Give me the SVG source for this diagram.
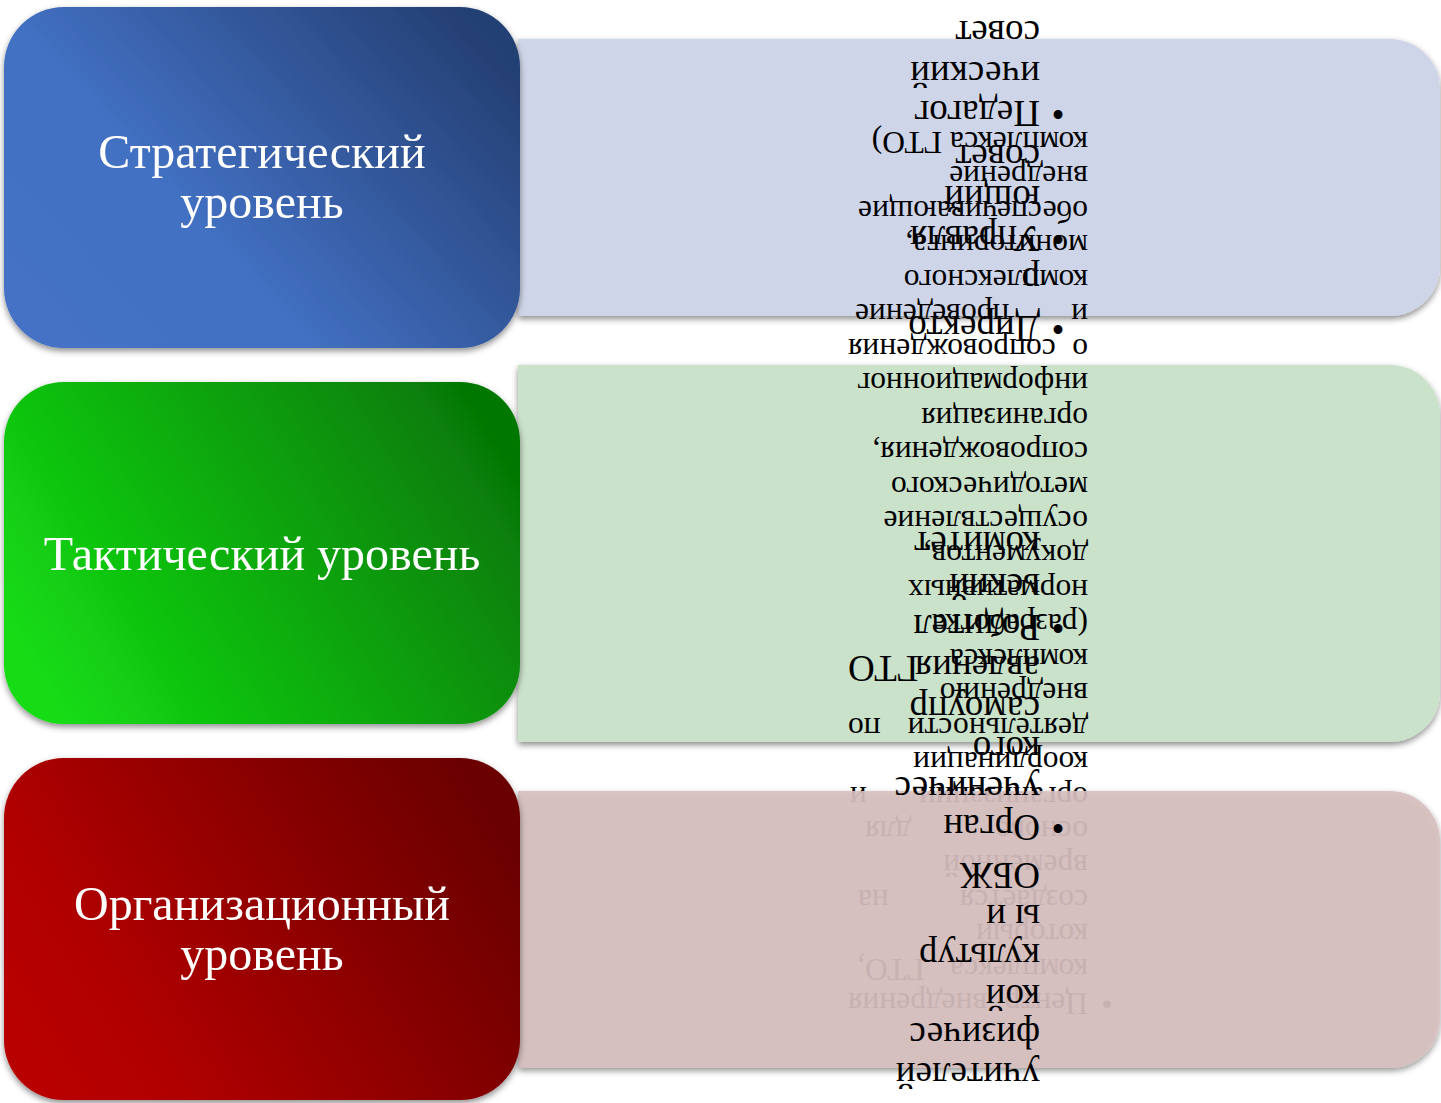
<svg xmlns="http://www.w3.org/2000/svg" width="1441" height="1103" viewBox="0 0 1441 1103">
<style>
.title{font-family:"Liberation Serif","Times New Roman",serif;font-size:48px;fill:#fff;text-anchor:middle}
.a{font-family:"Liberation Serif","Times New Roman",serif;font-size:37px;fill:#000}
.b{font-family:"Liberation Serif","Times New Roman",serif;font-size:31.5px;fill:#000}
.e{text-anchor:end}
.m{text-anchor:middle}
</style>
<defs>
<filter id="sh" x="-5%" y="-5%" width="110%" height="125%">
<feDropShadow dx="0" dy="3" stdDeviation="3" flood-color="#000" flood-opacity="0.45"/>
</filter>
<linearGradient id="gBlue" x1="0" y1="0.8" x2="1" y2="0.2">
<stop offset="0" stop-color="#4472C4"/>
<stop offset="0.35" stop-color="#4270C2"/>
<stop offset="1" stop-color="#243F73"/>
</linearGradient>
<linearGradient id="gGreen" x1="0" y1="0.7" x2="1" y2="0.3">
<stop offset="0" stop-color="#14DC14"/>
<stop offset="1" stop-color="#067806"/>
</linearGradient>
<linearGradient id="gRed" x1="0" y1="0.7" x2="1" y2="0.3">
<stop offset="0" stop-color="#B80000"/>
<stop offset="0.2" stop-color="#B00000"/>
<stop offset="1" stop-color="#6A0000"/>
</linearGradient>
</defs>

<g id="detail-strategic" filter="url(#sh)">
<path d="M518,39 H1390 A50,50 0 0 1 1440,89 V266 A50,50 0 0 1 1390,316 H518 Z" fill="#CFD5E8"/>
</g>
<g id="detail-tactical" filter="url(#sh)">
<path d="M518,365 H1390 A50,50 0 0 1 1440,415 V692 A50,50 0 0 1 1390,742 H518 Z" fill="#CAE1CA"/>
</g>

<g id="text-centre" transform="rotate(180 720.5 551.5)">
<text class="b" x="353" y="971">комплекса ГТО)</text>
<text class="b" x="353" y="936.6">внедрение</text>
<text class="b" x="353" y="902.1">обеспечивающие</text>
<text class="b" x="353" y="867.7">мониторинга,</text>
<text class="b" x="353" y="833.2">комплексного</text>
<text class="b" x="353" y="798.8">и</text><text class="b e" x="586" y="798.8">проведение</text>
<text class="b" x="353" y="764.3">о</text><text class="b e" x="593" y="764.3">сопровождения</text>
<text class="b" x="353" y="729.9">информационног</text>
<text class="b" x="353" y="695.4">организация</text>
<text class="b" x="353" y="661">сопровождения,</text>
<text class="b" x="353" y="626.5">методического</text>
<text class="b" x="353" y="592.1">осуществление</text>
<text class="b" x="353" y="557.6">документов,</text>
<text class="b" x="353" y="523.2">нормативных</text>
<text class="b" x="353" y="488.7">(разработка</text>
<text class="b" x="353" y="454.3">комплекса</text>
<text class="b" x="353" y="419.8">внедрению</text>
<text class="b" x="353" y="385.4">деятельности</text><text class="b e" x="593" y="385.4">по</text>
<text class="b" x="353" y="350.9">координации</text>
<text class="b" x="353" y="316.5">организации</text><text class="b e" x="591" y="316.5">и</text>
<text class="b" x="353" y="282">основе</text><text class="b e" x="576" y="282">для</text>
<text class="b" x="353" y="247.6">временной</text>
<text class="b" x="353" y="213.1">создается</text><text class="b e" x="583" y="213.1">на</text>
<text class="b" x="353" y="178.7">который</text>
<text class="b" x="353" y="144.2">комплекса</text><text class="b e" x="584" y="144.2">ГТО,</text>
<text class="b m" x="334" y="109.8">•</text><text class="b" x="353" y="109.8">Центр</text><text class="b e" x="593" y="109.8">внедрения</text>
</g>

<g id="detail-organizational" filter="url(#sh)">
<path d="M518,791 H1390 A50,50 0 0 1 1440,841 V1018 A50,50 0 0 1 1390,1068 H518 Z" fill="#D7BFBF" fill-opacity="0.9"/>
</g>

<g id="text-bodies" transform="rotate(180 720.5 551.5)">
<text class="a" x="401" y="40">учителей</text>
<text class="a" x="401" y="80">физичес</text>
<text class="a" x="401" y="118">кой</text>
<text class="a" x="401" y="159">культур</text>
<text class="a" x="401" y="198">ы и</text>
<text class="a" x="401" y="240">ОБЖ</text>
<text class="a m" x="383" y="288">•</text><text class="a" x="401" y="288">Орган</text>
<text class="a" x="401" y="326">ученичес</text>
<text class="a" x="401" y="366">кого</text>
<text class="a" x="401" y="406">самоупр</text>
<text class="a" x="401" y="447">авления</text><text class="a e" x="593" y="447">ГТО</text>
<text class="a m" x="383" y="488">•</text><text class="a" x="401" y="488">Родител</text>
<text class="a" x="401" y="529">ьский</text>
<text class="a" x="401" y="571">комитет</text>
<text class="a m" x="383" y="787">•</text><text class="a" x="401" y="787">Директо</text>
<text class="a" x="401" y="835">р</text>
<text class="a m" x="383" y="877">•</text><text class="a" x="401" y="877">Управля</text>
<text class="a" x="401" y="917">ющий</text>
<text class="a" x="401" y="958">совет</text>
<text class="a m" x="383" y="1002">•</text><text class="a" x="401" y="1002">Педагог</text>
<text class="a" x="401" y="1041">ический</text>
<text class="a" x="401" y="1082">совет</text>
</g>

<g id="level-strategic" filter="url(#sh)">
<rect x="4" y="7" width="516" height="341" rx="60" fill="url(#gBlue)"/>
<text class="title" x="262" y="168">Стратегический</text>
<text class="title" x="262" y="218">уровень</text>
</g>
<g id="level-tactical" filter="url(#sh)">
<rect x="4" y="382" width="516" height="342" rx="60" fill="url(#gGreen)"/>
<text class="title" x="262" y="570">Тактический уровень</text>
</g>
<g id="level-organizational" filter="url(#sh)">
<rect x="4" y="758" width="516" height="342" rx="60" fill="url(#gRed)"/>
<text class="title" x="262" y="920">Организационный</text>
<text class="title" x="262" y="970">уровень</text>
</g>

<g id="connectors"></g>
</svg>
